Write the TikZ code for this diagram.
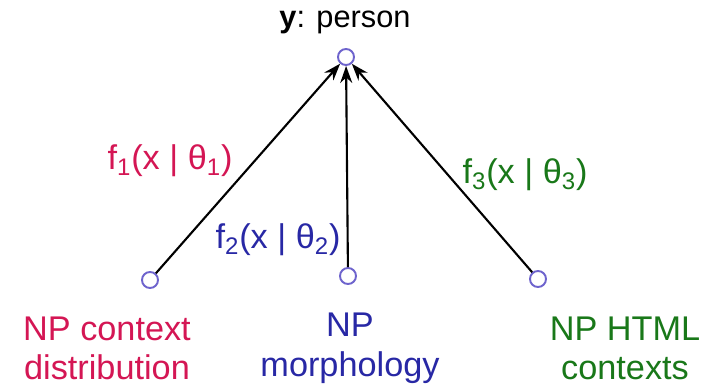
\documentclass[tikz,border=0pt]{standalone}
\usepackage{fontspec}
\setmainfont{Liberation Sans}
\usetikzlibrary{arrows.meta}
\definecolor{pinkred}{RGB}{212,22,84}
\definecolor{darkblue}{RGB}{40,40,165}
\definecolor{darkgreen}{RGB}{25,120,25}
\definecolor{ringcol}{RGB}{110,100,205}
\begin{document}
\begin{tikzpicture}[font=\fontsize{19.5}{22.5}\selectfont,
		var/.style={circle,draw=ringcol,fill=white,line width=1.1pt,inner sep=0pt,minimum size=0.32cm},
		dep/.style={-{Stealth[length=0.34cm,width=0.24cm]},line width=1.2pt},
		lab/.style={align=center}]
					\useasboundingbox (0,0) rectangle (14.4,7.74);
					\node[var] (y) at (6.92,6.6) {};
					\node[var] (x1) at (3.0,2.14) {};
					\node[var] (x2) at (6.96,2.22) {};
					\node[var] (x3) at (10.76,2.16) {};
					\node[font=\fontsize{17.5}{21}\selectfont] (ylab) at (6.9,7.3) {\textbf{y}: person};
					\draw[dep] (x1)--(y);
					\draw[dep] (x2)--(y);
					\draw[dep] (x3)--(y);
					\node[pinkred] (f1) at (3.4,4.52) {f\textsubscript{1}(x | θ\textsubscript{1})};
					\node[darkblue] (f2) at (5.56,2.94) {f\textsubscript{2}(x | θ\textsubscript{2})};
					\node[darkgreen] (f3) at (10.5,4.24) {f\textsubscript{3}(x | θ\textsubscript{3})};
					\node[lab,pinkred] (l1) at (2.14,0.77) {NP context\\distribution};
					\node[lab,darkblue] (l2) at (7.0,0.77) {NP\\morphology};
					\node[lab,darkgreen] (l3) at (12.5,0.77) {NP HTML\\contexts};
				\end{tikzpicture}
\end{document}
